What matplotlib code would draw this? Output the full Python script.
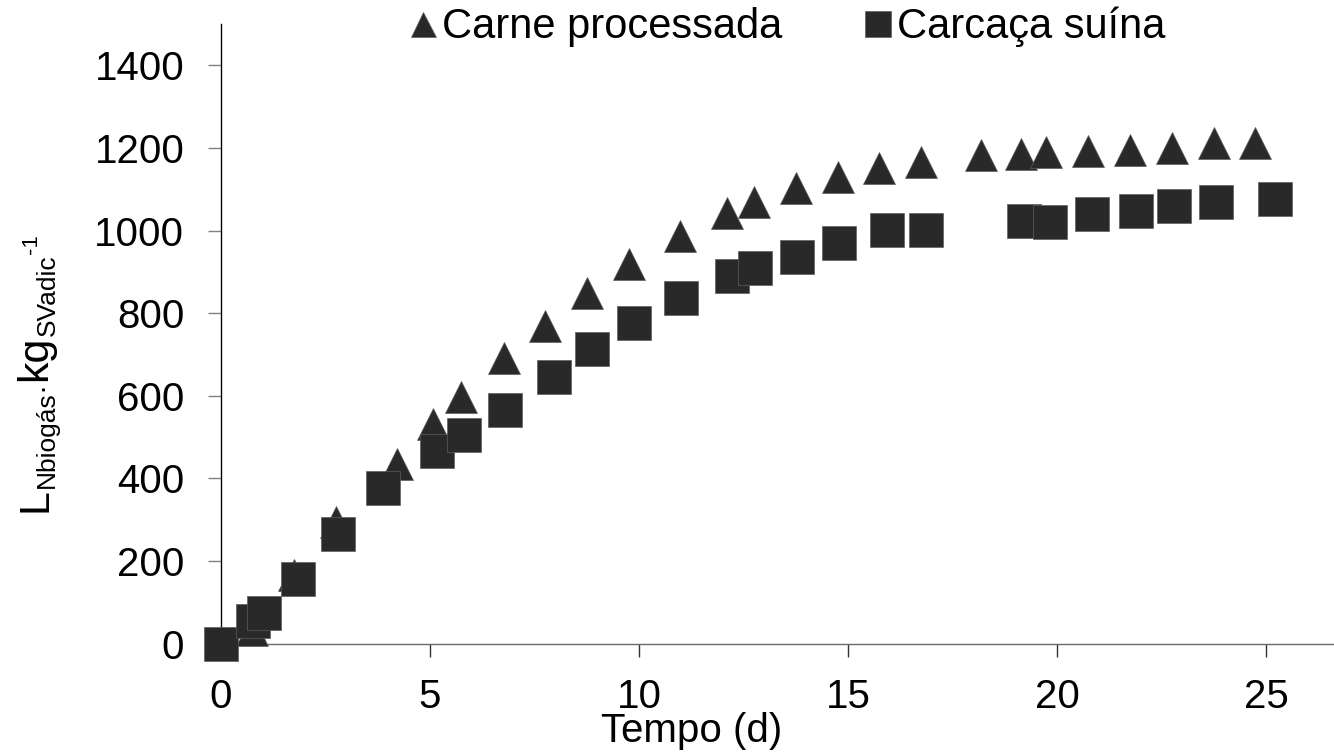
import matplotlib
matplotlib.use('Agg')
import matplotlib.pyplot as plt
from matplotlib.transforms import IdentityTransform

plt.rcParams['font.family'] = ['Liberation Sans', 'DejaVu Sans']

# Carne processada (triangulos)
t_carne = [0, 0.74, 1.75, 2.75, 4.20, 5.08, 5.74, 6.76, 7.75, 8.75, 9.75, 10.97, 12.11,
           12.75, 13.75, 14.75, 15.75, 16.75, 18.18, 19.14, 19.74, 20.75, 21.75, 22.75,
           23.75, 24.74]
v_carne = [0, 33, 166, 294, 436, 531, 597, 692, 770, 848, 918, 988, 1042,
           1068, 1103, 1130, 1151, 1167, 1183, 1186, 1190, 1193, 1196, 1199,
           1211, 1211]

# Carcaca suina (quadrados)
t_carcaca = [0, 0.77, 1.03, 1.85, 2.81, 3.88, 5.17, 5.81, 6.79, 7.97, 8.88, 9.88, 11.00,
             12.23, 12.78, 13.79, 14.78, 15.93, 16.87, 19.20, 19.84, 20.84, 21.88, 22.80,
             23.80, 25.21]
v_carcaca = [0, 56, 74, 156, 266, 376, 466, 504, 565, 646, 713, 777, 836,
             889, 909, 935, 969, 1001, 1002, 1023, 1021, 1039, 1048, 1060,
             1069, 1077]

x_ticks = [0, 5, 10, 15, 20, 25]
y_ticks = [0, 200, 400, 600, 800, 1000, 1200, 1400]

W, H = 1334, 752
fig = plt.figure(figsize=(W / 100, H / 100), dpi=100)
ax = fig.add_axes([221 / W, (H - 643.7) / H, (W - 221) / W, 619.7 / H])

mk = '#292929'
ax.plot(t_carne, v_carne, '^', ms=22.5, color=mk, mec='#5e5e5e', mew=0.5,
        clip_on=False, zorder=3, label='Carne processada')
ax.plot(t_carcaca, v_carcaca, 's', ms=24, color=mk, mec='#5e5e5e', mew=0.5,
        clip_on=False, zorder=3, label='Carcaça suína')

ax.set_xlim(0, (W - 221) / 41.8)
ax.set_ylim(0, 1500)
ax.set_xticks(x_ticks)
ax.set_yticks(y_ticks)

for s in ['top', 'right']:
    ax.spines[s].set_visible(False)
ax.spines['left'].set_color('black')
ax.spines['left'].set_linewidth(1.0)
ax.spines['bottom'].set_color('#6a6a6a')
ax.spines['bottom'].set_linewidth(1.0)

ax.tick_params(axis='x', direction='out', length=9.4, width=1.0, color='#333333',
               labelsize=29, pad=15)
ax.tick_params(axis='y', direction='out', length=9.4, width=1.0, color='#808080',
               labelsize=29, pad=17)

ax.set_xlabel('Tempo (d)', fontsize=29, va='baseline')
ax.xaxis.set_label_coords((692 - 221) / 1113, -(742 - 643.7) / 619.7)

fig.legend(loc='center', bbox_to_anchor=(788 / W, 1 - 27 / H), ncol=2, frameon=False,
           fontsize=30, markerscale=0.8, handlelength=0.6, handletextpad=0.15,
           columnspacing=2.0, borderpad=0, borderaxespad=0)

# y label built from pieces (Excel style sub/superscripts)
pieces = [('L', 31, 0), ('Nbiogás', 19, 8), ('·', 22, 3), ('kg', 31, 0),
          ('SVadic', 19, 9), ('-1', 16, -9)]
base_x = 46
texts = []
for s, size, off in pieces:
    t = fig.text(0, 0, s, fontsize=size, rotation=90, rotation_mode='anchor',
                 ha='left', va='baseline', transform=IdentityTransform())
    texts.append((t, off))
fig.canvas.draw()
r = fig.canvas.get_renderer()
lens = [t.get_window_extent(r).height for t, _ in texts]
total = sum(lens)
y_cur = (H - 373) - total / 2
for (t, off), l in zip(texts, lens):
    t.set_position((base_x + off, y_cur))
    y_cur += l

fig.savefig('out.png', dpi=100)
